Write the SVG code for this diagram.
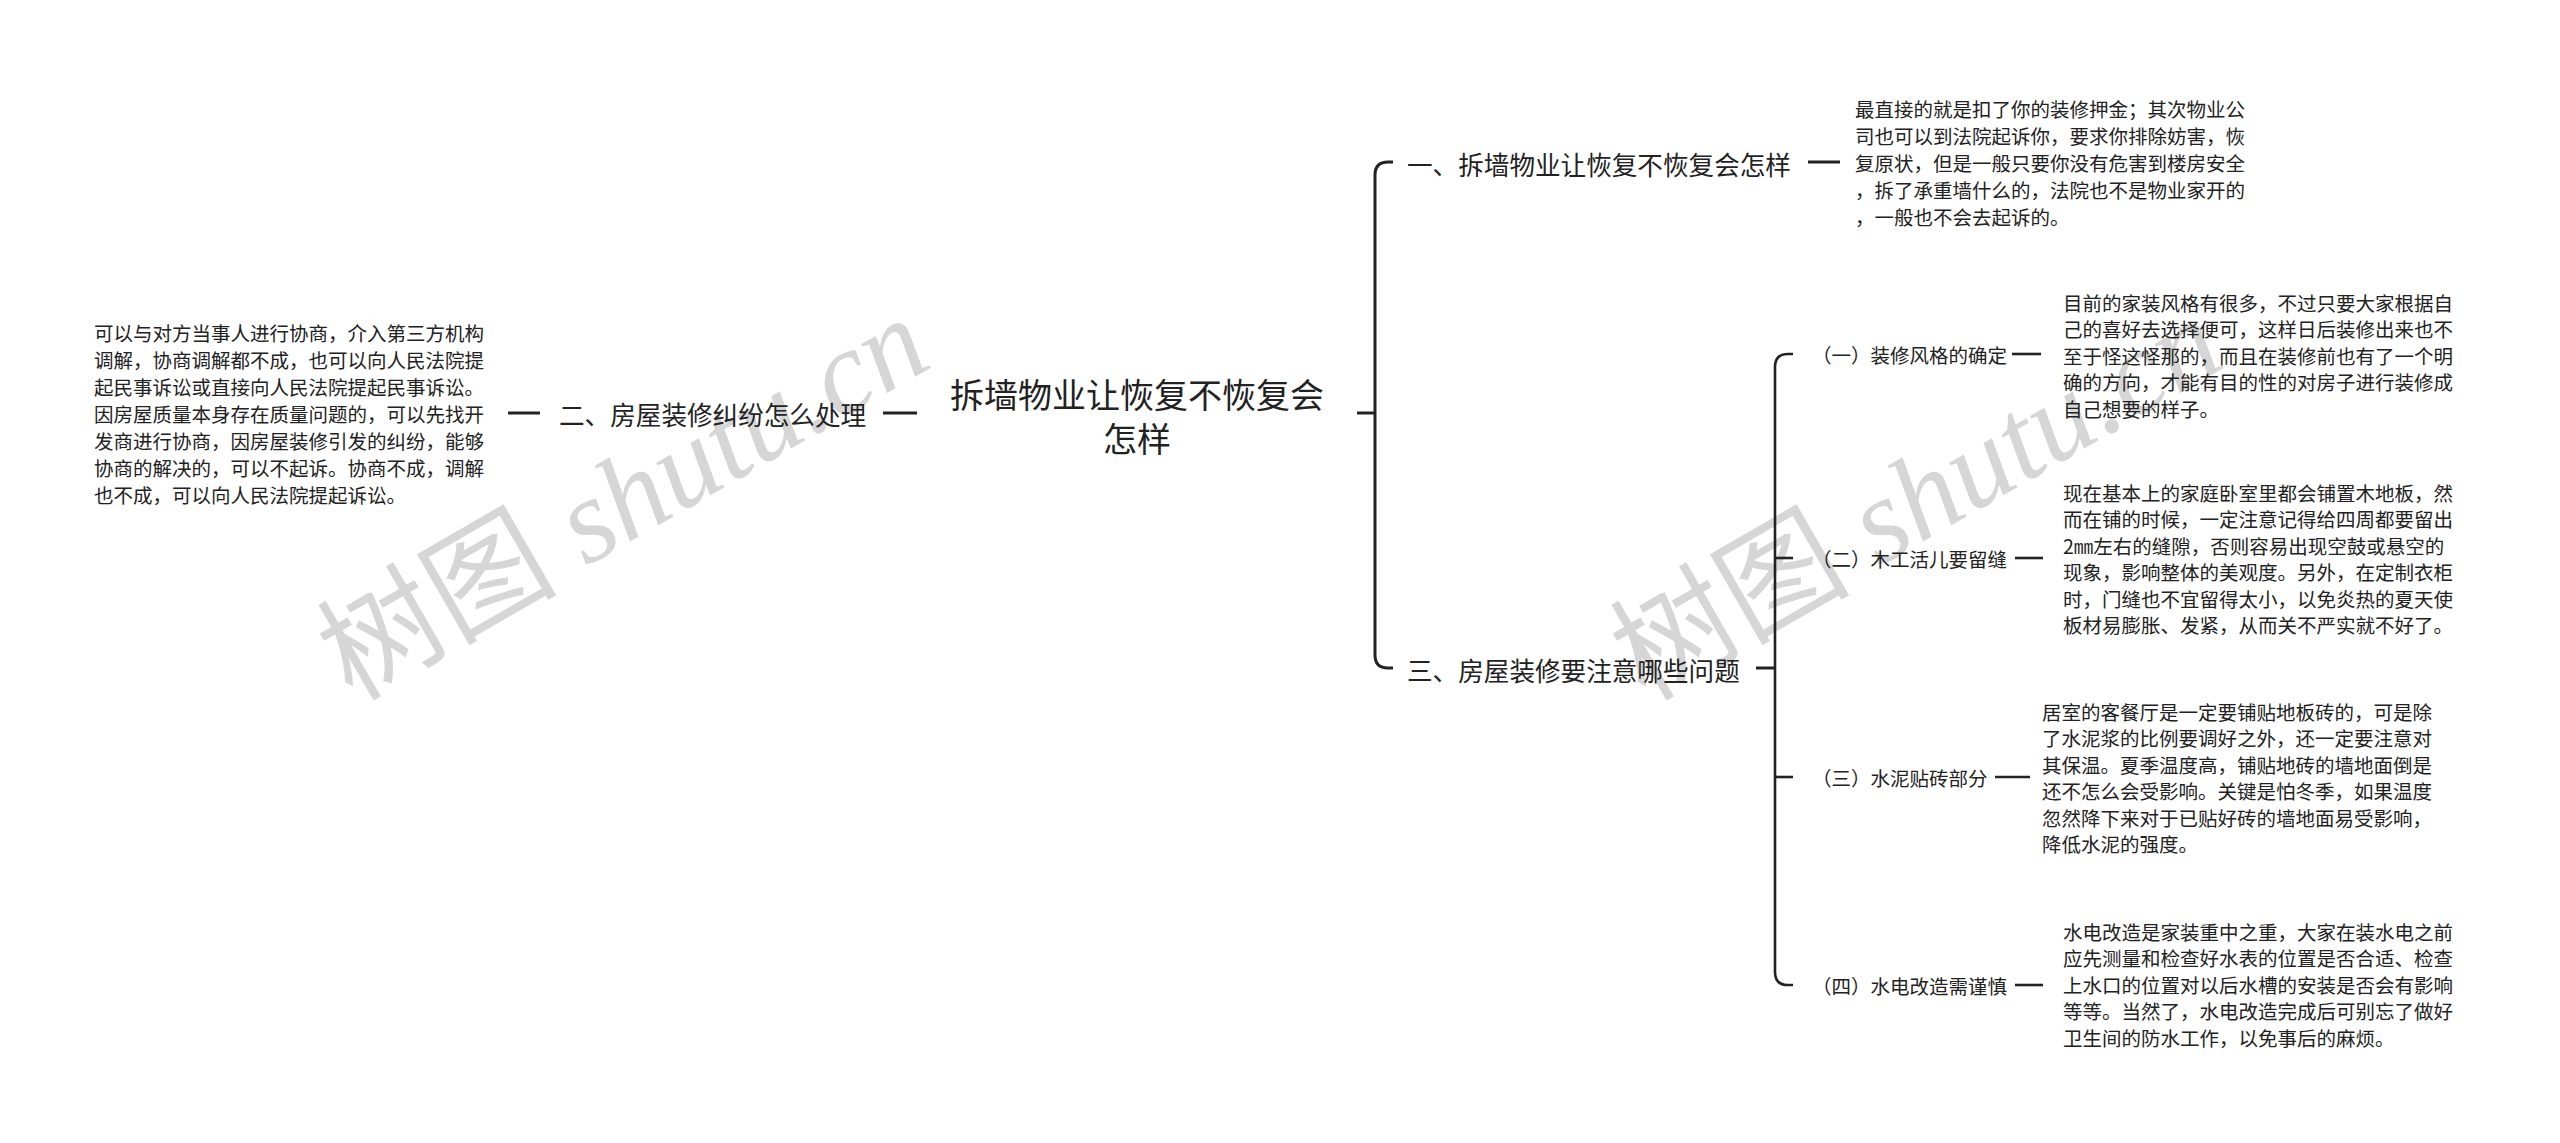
<svg xmlns="http://www.w3.org/2000/svg" width="2560" height="1143" viewBox="0 0 2560 1143">
<style>
text{font-family:"Noto Sans CJK SC","Noto Sans",sans-serif;fill:#222;dominant-baseline:central}
.center{font-size:34px;text-anchor:middle}
.main{font-size:25.6px}
.sub{font-size:19.5px}
.leaf{font-size:19.5px}
.wm{font-family:"Liberation Serif","Noto Sans CJK SC",serif;font-style:italic;font-size:120px;fill:#d6d6d6;dominant-baseline:alphabetic}
.wmc{font-family:"Noto Sans CJK SC",serif;font-style:normal;font-weight:normal}
.ln{fill:none;stroke:#222;stroke-width:3;stroke-linecap:butt}
.ln2{fill:none;stroke:#222;stroke-width:2.6}
</style>
<rect width="2560" height="1143" fill="#fff"/>
<g id="watermarks">
<text class="wm" transform="translate(352,702) rotate(-30)"><tspan class="wmc">树图</tspan> shutu.cn</text>
<text class="wm" transform="translate(1645,702) rotate(-30)"><tspan class="wmc">树图</tspan> shutu.cn</text>
</g>
<g id="connectors">
<path class="ln" d="M1357,413 H1375"/>
<path class="ln" d="M1375,413 V175 Q1375,162 1388,162 H1393"/>
<path class="ln" d="M1375,413 V655 Q1375,668 1388,668 H1393"/>
<path class="ln" d="M917,413 H883"/>
<path class="ln" d="M540,413 H508"/>
<path class="ln" d="M1808,162 H1840"/>
<path class="ln" d="M1756,668 H1775"/>
<path class="ln2" d="M1775,668 V367 Q1775,354 1788,354 H1793"/>
<path class="ln2" d="M1775,668 V972 Q1775,985 1788,985 H1793"/>
<path class="ln2" d="M1775,558 H1793"/>
<path class="ln2" d="M1775,777 H1793"/>
<path class="ln2" d="M2012,354 H2041"/>
<path class="ln2" d="M2015,558 H2043"/>
<path class="ln2" d="M1995,777 H2030"/>
<path class="ln2" d="M2015,985 H2043"/>
</g>
<g id="root">
<text class="center" x="1137" y="393">拆墙物业让恢复不恢复会</text>
<text class="center" x="1137" y="437">怎样</text>
</g>
<g id="branch1">
<text class="main" x="1407" y="163">一、拆墙物业让恢复不恢复会怎样</text>
</g>
<g id="leaf1">
<text class="leaf" x="1855" y="108">最直接的就是扣了你的装修押金；其次物业公</text>
<text class="leaf" x="1855" y="135">司也可以到法院起诉你，要求你排除妨害，恢</text>
<text class="leaf" x="1855" y="162">复原状，但是一般只要你没有危害到楼房安全</text>
<text class="leaf" x="1855" y="189">，拆了承重墙什么的，法院也不是物业家开的</text>
<text class="leaf" x="1855" y="216">，一般也不会去起诉的。</text>
</g>
<g id="branch2">
<text class="main" x="559" y="413">二、房屋装修纠纷怎么处理</text>
</g>
<g id="leaf2">
<text class="leaf" x="94" y="332">可以与对方当事人进行协商，介入第三方机构</text>
<text class="leaf" x="94" y="359">调解，协商调解都不成，也可以向人民法院提</text>
<text class="leaf" x="94" y="386">起民事诉讼或直接向人民法院提起民事诉讼。</text>
<text class="leaf" x="94" y="413">因房屋质量本身存在质量问题的，可以先找开</text>
<text class="leaf" x="94" y="440">发商进行协商，因房屋装修引发的纠纷，能够</text>
<text class="leaf" x="94" y="467">协商的解决的，可以不起诉。协商不成，调解</text>
<text class="leaf" x="94" y="494">也不成，可以向人民法院提起诉讼。</text>
</g>
<g id="branch3">
<text class="main" x="1407" y="669">三、房屋装修要注意哪些问题</text>
</g>
<g id="sub1">
<text class="sub" x="1812" y="354">（一）装修风格的确定</text>
</g>
<g id="leaf3">
<text class="leaf" x="2063" y="302">目前的家装风格有很多，不过只要大家根据自</text>
<text class="leaf" x="2063" y="328.5">己的喜好去选择便可，这样日后装修出来也不</text>
<text class="leaf" x="2063" y="355">至于怪这怪那的，而且在装修前也有了一个明</text>
<text class="leaf" x="2063" y="381.5">确的方向，才能有目的性的对房子进行装修成</text>
<text class="leaf" x="2063" y="408">自己想要的样子。</text>
</g>
<g id="sub2">
<text class="sub" x="1812" y="558">（二）木工活儿要留缝</text>
</g>
<g id="leaf4">
<text class="leaf" x="2063" y="492">现在基本上的家庭卧室里都会铺置木地板，然</text>
<text class="leaf" x="2063" y="518.5">而在铺的时候，一定注意记得给四周都要留出</text>
<text class="leaf" x="2063" y="545">2㎜左右的缝隙，否则容易出现空鼓或悬空的</text>
<text class="leaf" x="2063" y="571.5">现象，影响整体的美观度。另外，在定制衣柜</text>
<text class="leaf" x="2063" y="598">时，门缝也不宜留得太小，以免炎热的夏天使</text>
<text class="leaf" x="2063" y="624.5">板材易膨胀、发紧，从而关不严实就不好了。</text>
</g>
<g id="sub3">
<text class="sub" x="1812" y="777">（三）水泥贴砖部分</text>
</g>
<g id="leaf5">
<text class="leaf" x="2042" y="711">居室的客餐厅是一定要铺贴地板砖的，可是除</text>
<text class="leaf" x="2042" y="737.5">了水泥浆的比例要调好之外，还一定要注意对</text>
<text class="leaf" x="2042" y="764">其保温。夏季温度高，铺贴地砖的墙地面倒是</text>
<text class="leaf" x="2042" y="790.5">还不怎么会受影响。关键是怕冬季，如果温度</text>
<text class="leaf" x="2042" y="817">忽然降下来对于已贴好砖的墙地面易受影响，</text>
<text class="leaf" x="2042" y="843.5">降低水泥的强度。</text>
</g>
<g id="sub4">
<text class="sub" x="1812" y="985">（四）水电改造需谨慎</text>
</g>
<g id="leaf6">
<text class="leaf" x="2063" y="931">水电改造是家装重中之重，大家在装水电之前</text>
<text class="leaf" x="2063" y="957.5">应先测量和检查好水表的位置是否合适、检查</text>
<text class="leaf" x="2063" y="984">上水口的位置对以后水槽的安装是否会有影响</text>
<text class="leaf" x="2063" y="1010.5">等等。当然了，水电改造完成后可别忘了做好</text>
<text class="leaf" x="2063" y="1037">卫生间的防水工作，以免事后的麻烦。</text>
</g>
</svg>
